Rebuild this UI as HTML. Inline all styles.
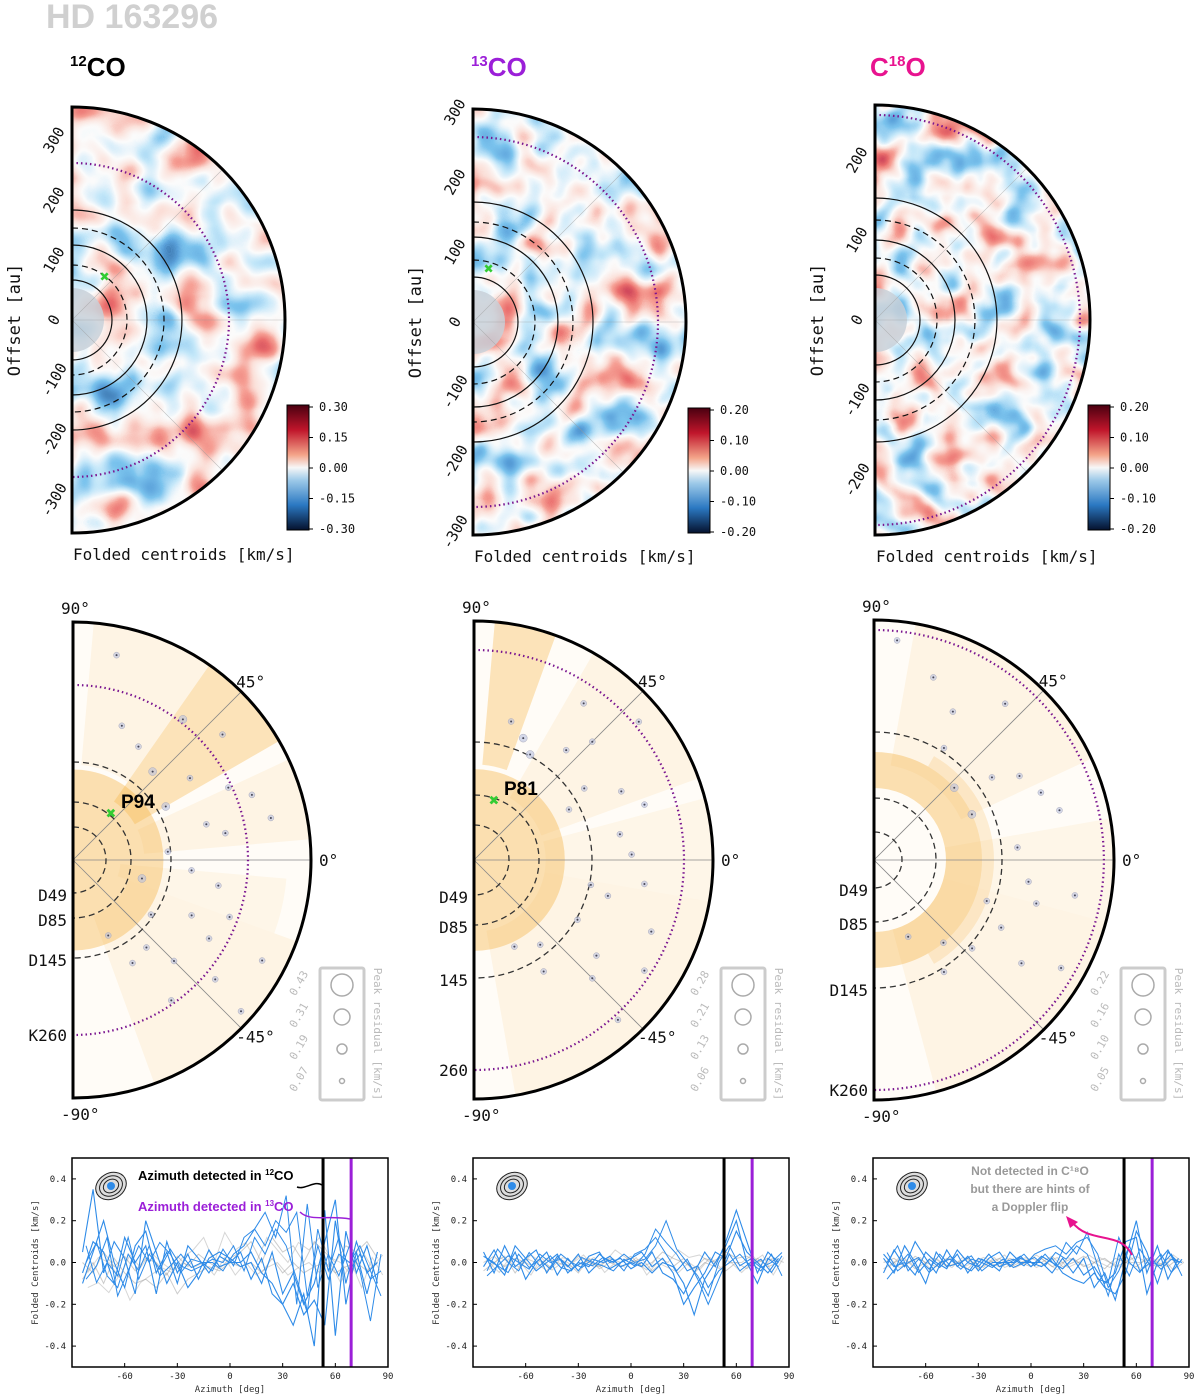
<!DOCTYPE html>
<html><head><meta charset="utf-8"><style>
html,body{margin:0;padding:0;background:#fff;width:1200px;height:1400px;overflow:hidden}
svg{display:block}
text{font-family:"DejaVu Sans Mono","Liberation Mono",monospace}
.h{font-family:"Liberation Sans","DejaVu Sans",sans-serif;font-weight:bold}
</style></head><body>
<svg id="fig" width="1200" height="1400" viewBox="0 0 1200 1400" xmlns="http://www.w3.org/2000/svg">
<defs>
<filter id="noiseA" x="0" y="0" width="100%" height="100%">
<feTurbulence type="fractalNoise" baseFrequency="0.022" numOctaves="2" seed="3"/>
<feColorMatrix type="matrix" values="1 0 0 0 0  1 0 0 0 0  1 0 0 0 0  0 0 0 0 1"/>
<feComponentTransfer>
<feFuncR type="table" tableValues="0.02 0.05 0.1 0.2 0.55 0.97 0.97 0.92 0.82 0.6 0.4"/>
<feFuncG type="table" tableValues="0.1 0.2 0.35 0.55 0.8 0.97 0.75 0.35 0.15 0.05 0.03"/>
<feFuncB type="table" tableValues="0.25 0.45 0.7 0.85 0.95 0.97 0.7 0.3 0.15 0.1 0.08"/>
</feComponentTransfer>
</filter>
<filter id="noiseB" x="0" y="0" width="100%" height="100%">
<feTurbulence type="fractalNoise" baseFrequency="0.025" numOctaves="2" seed="11"/>
<feColorMatrix type="matrix" values="1 0 0 0 0  1 0 0 0 0  1 0 0 0 0  0 0 0 0 1"/>
<feComponentTransfer>
<feFuncR type="table" tableValues="0.02 0.05 0.1 0.2 0.55 0.97 0.97 0.92 0.82 0.6 0.4"/>
<feFuncG type="table" tableValues="0.1 0.2 0.35 0.55 0.8 0.97 0.75 0.35 0.15 0.05 0.03"/>
<feFuncB type="table" tableValues="0.25 0.45 0.7 0.85 0.95 0.97 0.7 0.3 0.15 0.1 0.08"/>
</feComponentTransfer>
</filter>
<filter id="noiseC" x="0" y="0" width="100%" height="100%">
<feTurbulence type="fractalNoise" baseFrequency="0.028" numOctaves="2" seed="27"/>
<feColorMatrix type="matrix" values="1 0 0 0 0  1 0 0 0 0  1 0 0 0 0  0 0 0 0 1"/>
<feComponentTransfer>
<feFuncR type="table" tableValues="0.02 0.05 0.1 0.2 0.55 0.97 0.97 0.92 0.82 0.6 0.4"/>
<feFuncG type="table" tableValues="0.1 0.2 0.35 0.55 0.8 0.97 0.75 0.35 0.15 0.05 0.03"/>
<feFuncB type="table" tableValues="0.25 0.45 0.7 0.85 0.95 0.97 0.7 0.3 0.15 0.1 0.08"/>
</feComponentTransfer>
</filter>
<linearGradient id="cbar" x1="0" y1="0" x2="0" y2="1">
<stop offset="0" stop-color="#4a0010"/><stop offset="0.2" stop-color="#c0152b"/><stop offset="0.4" stop-color="#f4a58a"/>
<stop offset="0.5" stop-color="#f7f7f7"/><stop offset="0.6" stop-color="#9ecae9"/><stop offset="0.8" stop-color="#2b78c2"/><stop offset="1" stop-color="#05122e"/>
</linearGradient>
</defs>
<text class="h" x="46" y="28" font-size="34" fill="#d0d0d0">HD 163296</text>
<text class="h" x="70" y="76" font-size="26" fill="#000"><tspan font-size="15" dy="-10">12</tspan><tspan dy="10">CO</tspan></text>
<text class="h" x="471" y="76" font-size="26" fill="#9b1fd8"><tspan font-size="15" dy="-10">13</tspan><tspan dy="10">CO</tspan></text>
<text class="h" x="870" y="76" font-size="26" fill="#e8138f">C<tspan font-size="15" dy="-10">18</tspan><tspan dy="10">O</tspan></text>
<g id="root"></g>
<text class="h" x="138" y="1180" font-size="13" fill="#000">Azimuth detected in <tspan font-size="8" dy="-5">12</tspan><tspan dy="5">CO</tspan></text>
<text class="h" x="138" y="1211" font-size="13" fill="#9b1fd8">Azimuth detected in <tspan font-size="8" dy="-5">13</tspan><tspan dy="5">CO</tspan></text>
</svg>
<script>
// ---------- data ----------
const cbTicks1 = ["0.30","0.15","0.00","-0.15","-0.30"];
const cbTicks2 = ["0.20","0.10","0.00","-0.10","-0.20"];
const cbTicks3 = ["0.20","0.10","0.00","-0.10","-0.20"];
const offTicks1 = [300,200,100,0,-100,-200,-300];
const offTicks2 = [300,200,100,0,-100,-200,-300];
const offTicks3 = [200,100,0,-100,-200];
const ringLabels1 = ["D49","D85","D145","K260"];
const ringLabels2 = ["D49","D85","145","260"];
const ringLabels3 = ["D49","D85","D145","K260"];
const legendVals1 = ["0.43","0.31","0.19","0.07"];
const legendVals2 = ["0.28","0.21","0.13","0.06"];
const legendVals3 = ["0.22","0.16","0.10","0.05"];
const dots1Az = [78,60,52,40,35,30,25,20,15,10,5,-5,-10,-15,-20,-25,-30,-35,-40,-45,-50,-55,-60,-65,70,48,12,-28,-42];
const dots1R  = [0.88,0.55,0.75,0.82,0.6,0.45,0.72,0.8,0.58,0.65,0.4,0.5,0.62,0.3,0.7,0.55,0.66,0.4,0.78,0.6,0.48,0.72,0.5,0.35,0.6,0.5,0.85,0.9,0.95];
const dots1S  = [3,3,4,3,3,4,3,3,3,3,3,3,3,4,3,3,3,3,3,3,3,3,3,3,3,4,3,3,3];
const dots2Az = [75,62,55,45,40,33,25,18,10,2,-8,-15,-22,-30,-38,-45,-52,-58,-65,68,50,28,-12,-33,-48];
const dots2R  = [0.6,0.5,0.8,0.7,0.9,0.55,0.68,0.75,0.62,0.66,0.72,0.58,0.8,0.5,0.65,0.7,0.45,0.55,0.4,0.55,0.6,0.45,0.5,0.85,0.9];
const dots2S  = [3,4,3,3,3,3,3,3,3,3,3,3,3,3,3,3,3,3,3,4,3,3,3,3,3];
const dots3Az = [84,72,58,50,42,35,30,22,15,5,-8,-15,-20,-28,-35,-42,-50,-58,-66,62,25,-10,-30];
const dots3R  = [0.92,0.8,0.55,0.85,0.45,0.6,0.7,0.75,0.8,0.6,0.65,0.7,0.5,0.6,0.75,0.55,0.45,0.55,0.35,0.7,0.45,0.85,0.9];
const dots3S  = [3,3,3,3,4,3,3,3,3,3,3,3,3,3,3,3,3,3,3,3,4,3,3];
const azGrid = [-84,-78,-72,-66,-60,-54,-48,-42,-36,-30,-24,-18,-12,-6,0,6,12,18,24,30,36,42,48,54,60,66,72,78,84];
const p1Blue1 = [-0.1,0.05,0.2,0.0,-0.12,0.08,0.15,-0.05,0.05,-0.1,0.08,0.02,-0.05,0.03,0.0,0.05,-0.08,0.02,-0.15,-0.2,-0.1,-0.25,-0.18,-0.3,0.2,-0.1,0.1,-0.05,0.0];
const p1Blue2 = [0.05,0.35,-0.05,0.1,0.02,-0.15,0.2,0.05,-0.1,0.0,-0.12,-0.05,0.06,-0.02,0.0,0.0,0.05,-0.05,-0.1,-0.2,-0.3,-0.15,-0.4,0.25,-0.35,0.15,-0.05,0.08,-0.1];
const p1Blue3 = [-0.05,0.1,0.05,-0.1,0.12,0.0,0.08,-0.15,0.1,-0.05,0.04,-0.08,0.02,0.05,0.02,-0.02,0.0,-0.1,0.05,-0.15,-0.05,-0.2,-0.1,0.1,0.3,-0.2,0.05,-0.15,0.05];
const p1Grey1 = [0.0,-0.05,0.05,-0.02,0.03,-0.04,0.02,0.0,-0.06,0.03,-0.02,0.04,0.0,-0.03,0.02,0.05,0.1,0.0,0.12,0.05,0.08,0.0,0.1,0.05,0.0,0.08,0.05,0.1,0.02];
const p1Grey2 = [-0.08,0.0,-0.1,0.02,-0.05,-0.1,-0.08,-0.12,-0.05,-0.15,-0.08,-0.05,-0.02,-0.04,0.0,-0.02,0.0,-0.05,0.02,-0.05,0.0,-0.05,-0.02,0.0,-0.05,-0.02,0.0,-0.04,0.0];
const p2Blue1 = [0.05,-0.05,0.08,-0.02,0.02,0.06,-0.05,0.03,-0.02,0.04,-0.05,0.0,0.03,-0.02,0.0,-0.02,0.05,-0.05,-0.08,-0.15,-0.05,0.05,-0.02,0.1,0.25,0.1,-0.05,0.05,0.0];
const p2Blue2 = [-0.02,0.06,-0.04,0.05,-0.08,0.0,0.05,-0.06,0.02,-0.04,0.03,0.05,-0.03,0.0,0.02,0.05,-0.02,0.02,-0.05,-0.2,-0.12,-0.05,0.05,0.02,0.15,0.05,0.0,-0.05,0.02];
const p2Blue3 = [0.03,0.0,-0.06,0.08,0.02,-0.04,0.0,0.04,-0.05,0.0,-0.02,0.04,0.0,0.02,-0.03,0.0,-0.05,0.0,-0.02,-0.1,-0.25,-0.08,0.0,0.08,0.2,0.0,-0.1,0.02,-0.02];
const p2Grey1 = [0.0,0.03,-0.02,0.02,0.0,-0.03,0.02,0.0,-0.02,0.03,0.0,-0.02,0.02,0.0,0.03,-0.02,0.0,0.05,0.02,0.0,-0.03,0.02,0.0,0.05,0.02,0.03,0.0,0.02,0.0];
const p2Grey2 = [-0.04,0.0,0.03,-0.05,0.02,0.0,-0.04,0.02,0.0,-0.05,0.02,-0.03,0.0,-0.02,0.0,0.02,-0.04,0.0,-0.02,0.02,-0.05,0.0,-0.02,-0.04,0.0,-0.03,0.02,-0.02,0.0];
const p3Blue1 = [0.02,-0.05,0.08,0.0,-0.1,0.05,-0.02,0.04,-0.05,0.02,0.0,-0.04,0.05,0.0,0.0,-0.02,0.02,-0.05,-0.08,-0.1,-0.05,-0.12,-0.15,-0.05,0.15,0.05,-0.1,0.05,0.0];
const p3Blue2 = [-0.05,0.06,-0.02,0.1,0.02,-0.05,0.06,-0.02,0.03,-0.04,0.02,0.05,-0.02,0.02,0.0,0.0,-0.05,0.02,-0.05,0.02,-0.12,-0.05,-0.18,0.02,0.2,-0.05,0.08,-0.08,0.02];
const p3Blue3 = [0.04,-0.02,0.0,-0.06,0.05,0.0,-0.03,0.06,0.0,-0.02,0.04,-0.02,0.0,0.03,-0.02,0.03,0.0,-0.03,0.02,-0.06,-0.02,-0.1,-0.05,0.1,0.12,-0.15,0.0,0.06,-0.03];
const p3Grey1 = [0.0,0.02,-0.02,0.03,0.0,-0.02,0.02,0.0,-0.03,0.02,0.0,0.02,-0.02,0.0,0.02,0.0,0.03,-0.02,0.0,0.03,0.0,0.02,-0.02,0.0,0.03,0.0,-0.02,0.02,0.0];
const p3Grey2 = [-0.03,0.0,0.02,-0.03,0.0,0.02,-0.02,0.0,0.02,-0.03,0.0,-0.02,0.02,0.0,-0.02,0.02,-0.02,0.0,0.02,-0.02,0.0,-0.03,0.02,0.0,-0.02,0.02,0.0,-0.02,0.02];
const yTicks = [0.4,0.2,0.0,-0.2,-0.4];
const xTicks = [-60,-30,0,30,60,90];
// ---------- helpers ----------
const NS="http://www.w3.org/2000/svg";
const root=document.getElementById('root');
function mk(tag,attrs,parent){const e=document.createElementNS(NS,tag);for(const k in attrs)e.setAttribute(k,attrs[k]);(parent||root).appendChild(e);return e;}
function P(cx,cy,r,a){const t=a*Math.PI/180;return [cx+r*Math.cos(t),cy-r*Math.sin(t)];}
function arc(cx,cy,r,a0,a1){const p0=P(cx,cy,r,a0),p1=P(cx,cy,r,a1);return `M${p0[0]},${p0[1]} A${r},${r} 0 0 1 ${p1[0]},${p1[1]}`;}
function sector(cx,cy,r0,r1,a0,a1){const a=P(cx,cy,r1,a1),b=P(cx,cy,r1,a0),c=P(cx,cy,r0,a0),d=P(cx,cy,r0,a1);
 return `M${a[0]},${a[1]} A${r1},${r1} 0 0 1 ${b[0]},${b[1]} L${c[0]},${c[1]} A${r0},${r0} 0 0 0 ${d[0]},${d[1]} Z`;}
function txt(x,y,s,size,fill,extra){const e=mk('text',Object.assign({x:x,y:y,'font-size':size,fill:fill},extra||{}));e.textContent=s;return e;}

// ---------- top row maps ----------
const maps=[
 {cx:72,cy:320,R:213,f:'noiseA',scale:0.6,ticks:offTicks1,cb:cbTicks1,cbx:287,cby:405,rings:[[40,'s'],[55,'d'],[75,'s'],[92,'d'],[110,'s']],pr:157,cross:[107,276]},
 {cx:473,cy:322,R:213,f:'noiseB',scale:0.7,ticks:offTicks2,cb:cbTicks2,cbx:688,cby:408,rings:[[45,'s'],[62,'d'],[85,'s'],[100,'d'],[120,'s']],pr:185,cross:[491,268]},
 {cx:875,cy:320,R:215,f:'noiseC',scale:0.8,ticks:offTicks3,cb:cbTicks3,cbx:1088,cby:405,rings:[[45,'s'],[62,'d'],[80,'s'],[100,'d'],[122,'s']],pr:205,cross:null}
];
maps.forEach((m,i)=>{
 const g=mk('g',{});
 
 
 const cp=mk('clipPath',{id:'clip'+i},g);
 mk('path',{d:`M${m.cx},${m.cy-m.R} A${m.R},${m.R} 0 0 1 ${m.cx},${m.cy+m.R} Z`},cp);
 const ng=mk('g',{'clip-path':`url(#clip${i})`},g);
 const nr=mk('rect',{x:m.cx,y:m.cy-m.R,width:m.R,height:2*m.R,filter:`url(#${m.f})`},ng);
 
 
 if(i===0){const bandRing=mk('path',{d:sector(m.cx,m.cy,100,135,90,-90),fill:'#3a7fc8','fill-opacity':0.35},ng);
  
  }
 mk('circle',{cx:m.cx,cy:m.cy,r:32,fill:'#c8d0d8',opacity:0.85},ng);
 [90,45,0,-45,-90].forEach(a=>{const p=P(m.cx,m.cy,m.R,a);mk('line',{x1:m.cx,y1:m.cy,x2:p[0],y2:p[1],stroke:'#999','stroke-width':0.6,opacity:0.6},ng);});
 m.rings.forEach(r=>{const e=mk('path',{d:arc(m.cx,m.cy,r[0],90,-90),fill:'none',stroke:'#111','stroke-width':1.2,'stroke-dasharray':r[1]=='d'?'6,4':'none'},g);
  
  });
 const pd=mk('path',{d:arc(m.cx,m.cy,m.pr,90,-90),fill:'none',stroke:'#7a1590','stroke-width':2.2,'stroke-dasharray':'1.5,3'},g);
 
 
 const ed=mk('path',{d:arc(m.cx,m.cy,m.R,90,-90)+` Z`,fill:'none',stroke:'#000','stroke-width':3},g);
 
 
 if(m.cross){const c=txt(m.cross[0]-7,m.cross[1]+6,'✖',16,'#3c3',{});}
 m.ticks.forEach(t=>{const y=m.cy-t*m.scale;const x=m.cx-18;
  const e=txt(x,y+5,String(t),15,'#111',{'text-anchor':'middle',transform:`rotate(-60 ${x} ${y})`});
  
  });
 const yl=txt(0,0,'Offset [au]',17,'#111',{'text-anchor':'middle',transform:`translate(${m.cx-52},${m.cy}) rotate(-90)`});
 
 
 const xl=txt(m.cx+1,m.cy+m.R+27,'Folded centroids [km/s]',16,'#111',{});
 
 
 const cb=mk('rect',{x:m.cbx,y:m.cby,width:22,height:125,fill:'url(#cbar)',stroke:'#000','stroke-width':1},g);
 
 
 m.cb.forEach((s,k)=>{const y=m.cby+2+k*30.5;mk('line',{x1:m.cbx+22,y1:y,x2:m.cbx+26,y2:y,stroke:'#000'},g);
  const e=txt(m.cbx+32,y+4,s,12,'#111',{});
  
  });
});

// ---------- middle row polar panels ----------
const pol=[
 {cx:73,cy:860,R:238,rings:[33,58,98],pr:175,labels:ringLabels1,wedges:[[-90,90,0,0.38,0.4],[30,55,0.3,1,0.35],[-70,-20,0.25,1,0.1],[55,85,0.4,1,0.1],[5,25,0.3,1,0.1],[-20,-5,0.2,0.9,0.08]],az:dots1Az,rr:dots1R,ss:dots1S,leg:legendVals1,lx:320,name:'P94',pt:[113,813]},
 {cx:474,cy:860,R:239,rings:[35,65,118],pr:210,labels:ringLabels2,wedges:[[-90,90,0,0.38,0.4],[70,85,0.4,1,0.35],[20,60,0.3,1,0.1],[-80,-10,0.3,1,0.1],[-10,15,0.3,1,0.08]],az:dots2Az,rr:dots2R,ss:dots2S,leg:legendVals2,lx:721,name:'P81',pt:[496,800]},
 {cx:874,cy:860,R:240,rings:[28,62,128],pr:230,labels:ringLabels3,wedges:[[-90,90,0.3,0.45,0.4],[-60,60,0.45,0.5,0.2],[25,80,0.4,1,0.1],[-75,-15,0.3,1,0.1],[-15,10,0.3,1,0.08]],az:dots3Az,rr:dots3R,ss:dots3S,leg:legendVals3,lx:1121,name:null}
];
pol.forEach((m,i)=>{
 const g=mk('g',{});
 
 
 mk('path',{d:`M${m.cx},${m.cy-m.R} A${m.R},${m.R} 0 0 1 ${m.cx},${m.cy+m.R} Z`,fill:'#fffcf7'},g);
 m.wedges.forEach(w=>{const e=mk('path',{d:sector(m.cx,m.cy,w[2]*m.R,w[3]*m.R,w[0],w[1]),fill:'#f6b545','fill-opacity':w[4]},g);
  
  });
 [45,0,-45].forEach(a=>{const p=P(m.cx,m.cy,m.R,a);mk('line',{x1:m.cx,y1:m.cy,x2:p[0],y2:p[1],stroke:'#888','stroke-width':0.8},g);});
 m.rings.forEach(r=>{const e=mk('path',{d:arc(m.cx,m.cy,r,90,-90),fill:'none',stroke:'#333','stroke-width':1.3,'stroke-dasharray':'6,4'},g);
  
  });
 const pd=mk('path',{d:arc(m.cx,m.cy,m.pr,90,-90),fill:'none',stroke:'#7a1590','stroke-width':2.2,'stroke-dasharray':'1.5,3'},g);
 
 
 m.az.forEach((a,k)=>{const p=P(m.cx,m.cy,m.rr[k]*m.R,a);
  const c=mk('circle',{cx:p[0],cy:p[1],r:m.ss[k],fill:'#b8c0e0','fill-opacity':0.6,stroke:'#aab','stroke-width':0.5},g);
  
  
  mk('circle',{cx:p[0],cy:p[1],r:1,fill:'#445'},g);});
 const ed=mk('path',{d:arc(m.cx,m.cy,m.R,90,-90)+' Z',fill:'none',stroke:'#000','stroke-width':3},g);
 
 
 [['90°',m.cx-12,m.cy-m.R-8],['45°',P(m.cx,m.cy,m.R,45)[0]-5,P(m.cx,m.cy,m.R,45)[1]-4],['0°',m.cx+m.R+8,m.cy+6],['-45°',P(m.cx,m.cy,m.R,-45)[0]-5,P(m.cx,m.cy,m.R,-45)[1]+14],['-90°',m.cx-12,m.cy+m.R+22]].forEach(l=>{
  const e=txt(l[1],l[2],l[0],16,'#111',{});
  
  });
 const ys=[m.cy+m.rings[0]+8,m.cy+m.rings[1]+8,m.cy+m.rings[2]+8,m.cy+m.pr+6];
 m.labels.forEach((s,k)=>{const e=txt(m.cx-6,ys[k],s,16,'#111',{'text-anchor':'end'});
  
  });
 if(m.name){const c=txt(m.pt[0]-7,m.pt[1]+6,'✖',17,'#3c3',{});
  const n=txt(m.pt[0]+8,m.pt[1]-5,m.name,19,'#000',{class:'h'});}
 const lg=mk('rect',{x:m.lx,y:968,width:44,height:132,fill:'#fff',stroke:'#ccc','stroke-width':3,rx:2},g);
 
 
 [11,8,5,2.5].forEach((r,k)=>{mk('circle',{cx:m.lx+22,cy:985+k*32,r:r,fill:'none',stroke:'#aaa','stroke-width':1.5},g);
  const e=txt(0,0,m.leg[k],11,'#bbb',{'text-anchor':'middle',transform:`translate(${m.lx-18},${985+k*32}) rotate(-60)`});
  
  });
 const lt=txt(0,0,'Peak residual [km/s]',11,'#bbb',{'text-anchor':'middle',transform:`translate(${m.lx+54},1034) rotate(90)`});
 
 
});

// ---------- bottom line plots ----------
const plots=[
 {x0:72,blue:[p1Blue1,p1Blue2,p1Blue3],grey:[p1Grey1,p1Grey2]},
 {x0:473,blue:[p2Blue1,p2Blue2,p2Blue3],grey:[p2Grey1,p2Grey2]},
 {x0:873,blue:[p3Blue1,p3Blue2,p3Blue3],grey:[p3Grey1,p3Grey2]}
];
const Y0=1158,H=209,W=316;
plots.forEach((p,i)=>{
 const g=mk('g',{});
 
 
 const X=a=>p.x0+(a+90)/180*W, Yv=v=>Y0+H/2-v*H;
 p.grey.forEach(s=>{const e=mk('polyline',{points:azGrid.map((a,k)=>X(a)+','+Yv(s[k])).join(' '),fill:'none',stroke:'#999','stroke-width':1,'stroke-opacity':0.5},g);
  
  
  const e2=mk('polyline',{points:azGrid.map((a,k)=>X(a+3)+','+Yv(s[(k+5)%s.length]*1.2)).join(' '),fill:'none',stroke:'#999','stroke-width':1,'stroke-opacity':0.4},g);
  
  });
 p.blue.forEach((s,j)=>{const e=mk('polyline',{points:azGrid.map((a,k)=>X(a)+','+Yv(s[k])).join(' '),fill:'none',stroke:'#2e8be8','stroke-width':1.1},g);
  
  
  const e2=mk('polyline',{points:azGrid.map((a,k)=>X(a+2)+','+Yv(-s[(k+3)%s.length]*0.8)).join(' '),fill:'none',stroke:'#2e8be8','stroke-width':1},g);
  
  });
 const bl=mk('line',{x1:X(53),y1:Y0,x2:X(53),y2:Y0+H,stroke:'#000','stroke-width':3},g);
 
 
 const pl=mk('line',{x1:X(69),y1:Y0,x2:X(69),y2:Y0+H,stroke:'#9b1fd8','stroke-width':3},g);
 
 
 const fr=mk('rect',{x:p.x0,y:Y0,width:W,height:H,fill:'none',stroke:'#000','stroke-width':1.5},g);
 
 
 yTicks.forEach(v=>{mk('line',{x1:p.x0,y1:Yv(v),x2:p.x0+4,y2:Yv(v),stroke:'#000'},g);
  const e=txt(p.x0-6,Yv(v)+3,v.toFixed(1),9,'#222',{'text-anchor':'end'});
  
  });
 xTicks.forEach(v=>{mk('line',{x1:X(v),y1:Y0+H,x2:X(v),y2:Y0+H-4,stroke:'#000'},g);
  const e=txt(X(v),Y0+H+12,String(v),9,'#222',{'text-anchor':'middle'});
  
  });
 const xt=txt(p.x0+W/2,1392,'Azimuth [deg]',9,'#333',{'text-anchor':'middle'});
 
 
 const yt=txt(0,0,'Folded Centroids [km/s]',9,'#333',{'text-anchor':'middle',transform:`translate(${p.x0-34},${Y0+H/2}) rotate(-90)`});
 
 
 const ic=mk('g',{},g);
 
 
 [16,12,8].forEach(r=>mk('ellipse',{cx:p.x0+39,cy:1186,rx:r,ry:r*0.8,fill:'#ddd',stroke:'#222','stroke-width':1,transform:`rotate(-30 ${p.x0+39} 1186)`},ic));
 mk('circle',{cx:p.x0+39,cy:1186,r:4,fill:'#2e8be8'},ic);
});
mk('path',{d:'M322,1185 C315,1180 305,1190 297,1187',fill:'none',stroke:'#000','stroke-width':1.5});
mk('path',{d:'M350,1219 C330,1215 310,1222 300,1212',fill:'none',stroke:'#9b1fd8','stroke-width':1.5});
const a3=txt(1030,1175,'Not detected in C¹⁸O',12,'#999',{class:'h','text-anchor':'middle'});
const a4=txt(1030,1193,'but there are hints of',12,'#999',{class:'h','text-anchor':'middle'});
const a5=txt(1030,1211,'a Doppler flip',12,'#999',{class:'h','text-anchor':'middle'});
const ar=mk('path',{d:'M1132,1255 C1120,1230 1090,1245 1072,1222',fill:'none',stroke:'#e8138f','stroke-width':2});


mk('path',{d:'M1066,1216 L1078,1222 L1070,1228 Z',fill:'#e8138f'});
</script>
</body></html>
